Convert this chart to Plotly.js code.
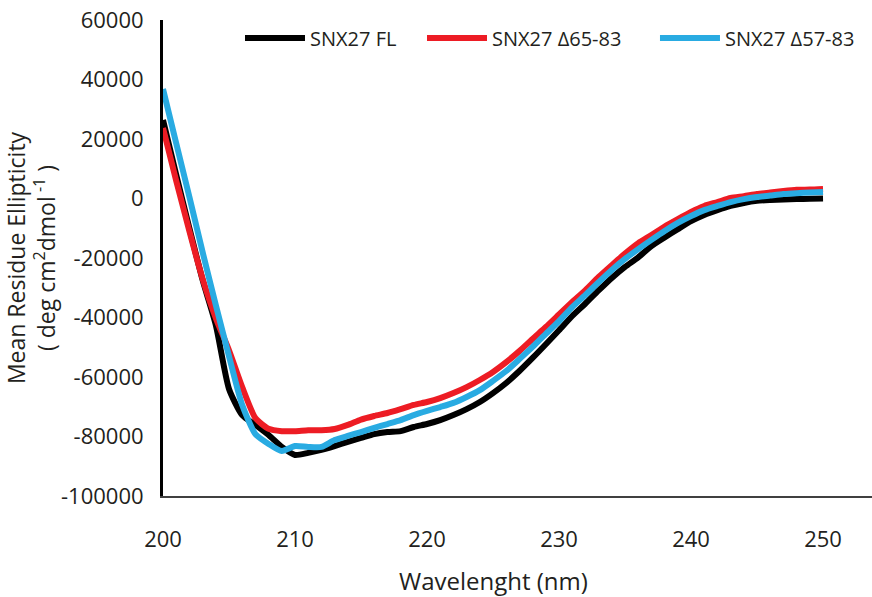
<!DOCTYPE html>
<html>
<head>
<meta charset="utf-8">
<script src="https://cdn.plot.ly/plotly-3.0.1.min.js"></script>
<style>html,body{margin:0;padding:0;background:#fff;}#chart{width:872px;height:597px;}</style>
</head>
<body>
<div id="chart"></div>
<script>
const wavelength = [200,201,202,203,204,205,206,207,208,209,210,211,212,213,214,215,216,217,218,219,220,221,222,223,224,225,226,227,228,229,230,231,232,233,234,235,236,237,238,239,240,241,242,243,244,245,246,247,248,249,250];

const snx27FL = [26400,8000,-10000,-27400,-42500,-64000,-72800,-76100,-79500,-83500,-86200,-85500,-84500,-83200,-81800,-80500,-79200,-78500,-78200,-76800,-75800,-74500,-72800,-70800,-68400,-65400,-62000,-58000,-53600,-49000,-44300,-39500,-35300,-30900,-26700,-23000,-19800,-16000,-13100,-10300,-7600,-5500,-3900,-2500,-1500,-800,-500,-300,-200,-100,0];

const snx27D65 = [23700,6000,-11000,-27000,-40200,-51000,-63400,-73800,-77400,-78200,-78200,-77900,-77900,-77500,-76100,-74300,-73100,-72100,-70800,-69400,-68400,-67100,-65400,-63400,-61000,-58300,-55000,-51300,-47200,-43200,-39000,-34800,-30800,-26400,-22400,-18500,-15000,-12300,-9400,-6900,-4500,-2500,-1200,200,800,1500,2000,2500,2900,3000,3200];

const snx27D57 = [36800,18600,500,-18000,-35800,-53000,-69400,-79200,-82500,-84900,-83200,-83500,-83500,-81200,-79800,-78500,-77100,-75800,-74500,-72800,-71400,-70100,-68700,-66700,-64400,-61300,-58000,-54000,-49900,-45500,-41200,-36500,-32400,-28100,-24000,-20300,-17000,-13900,-10900,-8200,-5900,-3900,-2500,-1200,-200,500,1000,1500,1800,2000,2200];

const seriesNames = ['SNX27 FL', 'SNX27 Δ65-83', 'SNX27 Δ57-83'];
const seriesColors = ['#000000', '#ED1C24', '#29ABE2'];
const seriesValues = [snx27FL, snx27D65, snx27D57];
const legendIds = ['legend', 'legend2', 'legend3'];
const legendX = [0.1086, 0.3653, 0.6939];

const xTickVals = [200,210,220,230,240,250];
const xTickText = ['200','210','220','230','240','250'];
const yTickVals = [-100000,-80000,-60000,-40000,-20000,0,20000,40000,60000];
const yTickText = ['-100000','-80000','-60000','-40000','-20000','0','20000','40000','60000'];

const traces = seriesValues.map((vals, i) => ({
  type: 'scatter',
  mode: 'lines',
  x: wavelength,
  y: vals,
  name: seriesNames[i],
  legend: legendIds[i],
  line: {color: seriesColors[i], width: 6, shape: 'spline', smoothing: 0.6},
  hoverinfo: 'skip'
}));

const font = {family: '"Open Sans", "Noto Sans", sans-serif', color: '#231F20'};

const layout = {
  width: 872,
  height: 597,
  margin: {l: 163, r: 0, t: 20, b: 101, pad: 0},
  paper_bgcolor: '#ffffff',
  plot_bgcolor: '#ffffff',
  font: font,
  showlegend: true,
  xaxis: {
    range: [200, 253.71],
    tickvals: xTickVals,
    ticktext: xTickText,
    showgrid: false,
    zeroline: false,
    showline: true,
    linecolor: '#404040',
    linewidth: 2,
    ticks: '',
    ticklabelstandoff: 23,
    tickfont: {family: font.family, size: 22, color: '#231F20'},
    fixedrange: true
  },
  yaxis: {
    range: [-100000, 60000],
    tickvals: yTickVals,
    ticktext: yTickText,
    showgrid: false,
    zeroline: false,
    showline: true,
    linecolor: '#000000',
    linewidth: 3,
    ticks: '',
    ticklabelstandoff: 12,
    tickfont: {family: font.family, size: 22, color: '#231F20'},
    title: {
      text: 'Mean Residue Ellipticity<br>( deg cm<sup>2</sup>dmol<sup> -1</sup> )',
      font: {family: font.family, size: 23, color: '#231F20'},
      standoff: 1
    },
    fixedrange: true
  },
  annotations: [{
    text: 'Wavelenght (nm)',
    xref: 'x', x: 225,
    yref: 'paper', y: -0.178,
    xanchor: 'center', yanchor: 'middle',
    showarrow: false,
    font: {family: font.family, size: 24, color: '#231F20'}
  }]
};

legendIds.forEach((id, i) => {
  layout[id] = {
    orientation: 'h',
    x: legendX[i], xanchor: 'left',
    y: 0.962, yanchor: 'middle',
    bgcolor: 'rgba(0,0,0,0)',
    font: {family: font.family, size: 20, color: '#231F20'},
    itemwidth: 60
  };
});

Plotly.newPlot('chart', traces, layout, {displayModeBar: false, staticPlot: true});
</script>
</body>
</html>
